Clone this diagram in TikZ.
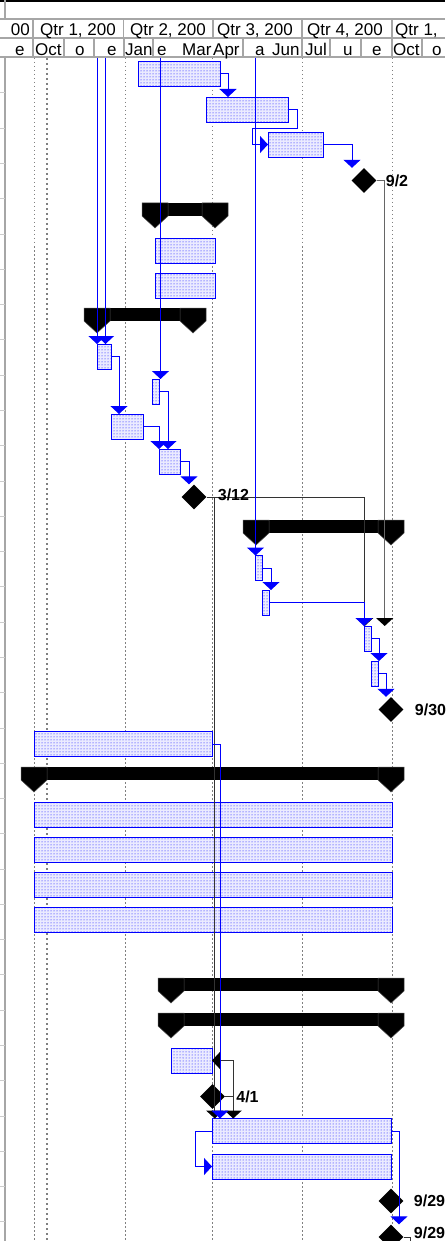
\documentclass[tikz,border=0pt]{standalone}
\usepackage{fontspec}
\setmainfont{Liberation Sans}
\usetikzlibrary{positioning,shapes.geometric,arrows.meta,patterns}

\begin{document}
\begin{tikzpicture}[
  x=1pt, y=-1pt,
  font=\fontsize{17}{17}\selectfont,
  hdr/.style={draw=gray!70, line width=1.5pt},
  cell/.style={anchor=base west, inner sep=0pt},
  gridline/.style={gray, line width=1pt, dash pattern=on 1.5pt off 2.5pt},
  taskbar/.style={draw=blue, line width=0.9pt, fill=blue!8, postaction={pattern=dots, pattern color=blue}, inner sep=0pt, outer sep=0pt, minimum height=25pt},
  sumbar/.style={fill=black, inner sep=0pt, outer sep=0pt, minimum height=13pt},
  sumcap/.style={fill=black, draw=gray!60!black, line width=0.5pt},
  ms/.style={diamond, fill=black, inner sep=0pt, minimum size=25pt},
  mslabel/.style={font=\bfseries\fontsize{16}{16}\selectfont, inner sep=1pt},
  link/.style={draw=blue, line width=1pt, -{Triangle[width=17pt,length=8pt]}},
  dep/.style={draw=black!80, line width=1pt, -{Triangle[width=17pt,length=8pt,fill=black,color=black]}},
  drop/.style={to path={-- ++(#1,0) coordinate (knee) -- (knee |- \tikztotarget)}},
  drop/.default=8
]
\useasboundingbox (0,0) rectangle (445,1241);
\clip (0,0) rectangle (445,1241);

\draw[line width=2pt] (0,1) -- (445,1);
\draw[hdr] (0,19) -- (445,19) (0,38) -- (445,38) (0,57) -- (445,57);
\draw[hdr] (5,0) -- (5,19) (5,57) -- (5,1241);
\foreach \x in {33,123.5,213,302,392} \draw[hdr] (\x,19) -- (\x,38);
\foreach \x in {33,64,94,124,153,243,302,330,361,392,422} \draw[hdr] (\x,38) -- (\x,57);

\node[cell, anchor=base east] (q0) at (30,36) {00};
\foreach \x/\lbl [count=\i] in {40/{Qtr 1, 200},130/{Qtr 2, 200},217/{Qtr 3, 200},307/{Qtr 4, 200},395/{Qtr 1,}}
  \node[cell] (q\i) at (\x,36) {\lbl};
\foreach \x/\lbl [count=\i] in {15/e,35/Oct,75/o,107/e,125/Jan,157/e,182/Mar,213/Apr,255/a,272/Jun,305/Jul,343/u,372/e,393/Oct,432/o}
  \node[cell] (mo\i) at (\x,55.5) {\lbl};

\foreach \k in {1,...,33} \draw[gray!40, line width=1pt] (0,{57.7+35.28*\k}) -- (5,{57.7+35.28*\k});
\draw[gridline] (34,58) -- (34,1241);
\draw[gray, line width=2.5pt, dash pattern=on 2pt off 3pt] (47,58) -- (47,1241);
\foreach \x in {125,212.5,302,392} \draw[gridline] (\x,58) -- (\x,1241);

\node[taskbar, minimum width=82pt] (t0) at (179,74) {};
\node[taskbar, minimum width=82pt] (t1) at (247,109.5) {};
\node[taskbar, minimum width=55pt] (t2) at (295.5,144.5) {};
\node[taskbar, minimum width=60pt] (t5) at (185,250.5) {};
\node[taskbar, minimum width=60pt] (t6) at (185,285.5) {};
\node[taskbar, minimum width=14pt] (t8) at (104,356.5) {};
\node[taskbar, minimum width=7pt] (t9) at (155.5,391.5) {};
\node[taskbar, minimum width=32pt] (t10) at (127,426.5) {};
\node[taskbar, minimum width=21pt] (t11) at (169.5,461.5) {};
\node[taskbar, minimum width=7pt] (t14) at (258.5,568) {};
\node[taskbar, minimum width=7pt] (t15) at (265.5,602.5) {};
\node[taskbar, minimum width=7pt] (t16) at (367.5,638.5) {};
\node[taskbar, minimum width=7pt] (t17) at (374.5,673.5) {};
\node[taskbar, minimum width=178pt] (t19) at (123,744) {};
\node[taskbar, minimum width=358pt] (t21) at (213,814.5) {};
\node[taskbar, minimum width=358pt] (t22) at (213,850) {};
\node[taskbar, minimum width=358pt] (t23) at (213,885) {};
\node[taskbar, minimum width=358pt] (t24) at (213,920) {};
\node[taskbar, minimum width=41pt] (t28) at (191.5,1060.5) {};
\node[taskbar, minimum width=179pt] (t30) at (301.5,1131) {};
\node[taskbar, minimum width=179pt] (t31) at (301.5,1166.5) {};

\node[sumbar, minimum width=60pt] (s4) at (185,209.5) {};
\node[sumbar, minimum width=96pt] (s7) at (145,314.5) {};
\node[sumbar, minimum width=135pt] (s13) at (323.5,526.5) {};
\node[sumbar, minimum width=357pt] (s20) at (212.5,773.5) {};
\node[sumbar, minimum width=220pt] (s26) at (281,984.5) {};
\node[sumbar, minimum width=220pt] (s27) at (281,1019.5) {};
\foreach \s in {s4,s7,s13,s20,s26,s27}
  \foreach \c in {south west,south east}
    \draw[sumcap] (\s.\c) ++(-13,0) -- ++(0,-13) -- ++(26,0) -- ++(0,13) -- ++(-13,12) -- cycle;

\node[ms] (m3) at (364,180.5) {};
\node[ms] (m12) at (194,497) {};
\node[ms] (m18) at (391,709.5) {};
\node[ms] (m29) at (212.5,1096.5) {};
\node[ms] (m32) at (391,1201) {};
\node[ms] (m33) at (391,1237) {};

\coordinate (in1) at (97,58);
\coordinate (in2) at (105.5,58);
\coordinate (in3) at (160.5,58);
\coordinate (in4) at (255.5,58);
\coordinate (out) at (410,1241);

\draw[dep, drop=158] (m12.east) to (t16.north);
\draw[dep, drop] (m12.east) to (t30.north);
\draw[dep, draw=gray!80!black, line width=1.5pt, drop] (m3.east) to (t16.north);
\draw[dep, drop] (m29.east) to (t30.north);
\draw[dep] (m29.east) -- ++(8,0) |- (t28.east);
\draw[dep, -] (m33.east) -| (out);

\draw[link, drop] (t0.east) to (t1.north);
\draw[link] (t1.east) -- ++(9,0) -- ++(0,19) -| ([xshift=-16pt]t2.west) -- (t2.west);
\draw[link, drop=29] (t2.east) to (m3.north);
\draw[link] (in1) -- (in1 |- t8.north);
\draw[link] (in2) -- (in2 |- t8.north);
\draw[link] (in3) -- (in3 |- t9.north);
\draw[link] (in4) -- (in4 |- t14.north);
\draw[link, drop] (t8.east) to (t10.north);
\draw[link, drop=9] (t9.east) to (t11.north);
\draw[link, drop=16] (t10.east) to (t11.north);
\draw[link, drop=9] (t11.east) to (m12.north);
\draw[link, drop=9] (t14.east) to (t15.north);
\draw[link, drop=95] (t15.east) to (t16.north);
\draw[link, drop] (t16.east) to (t17.north);
\draw[link, drop] (t17.east) to (m18.north);
\draw[link, drop] (t19.east) to (t30.north);
\draw[link] (t30.west) -- ++(-17,0) |- (t31.west);
\draw[link, drop] (t30.east) to (m33.north);

\node[mslabel, right=8pt of m3] (l3) {9/2};
\node[mslabel, right=10pt of m12, yshift=2pt] (l12) {3/12};
\node[mslabel, right=10pt of m18] (l18) {9/30};
\node[mslabel, right=10pt of m29] (l29) {4/1};
\node[mslabel, right=9pt of m32] (l32) {9/29};
\node[mslabel, right=9pt of m33, yshift=4pt] (l33) {9/29};

\end{tikzpicture}
\end{document}
